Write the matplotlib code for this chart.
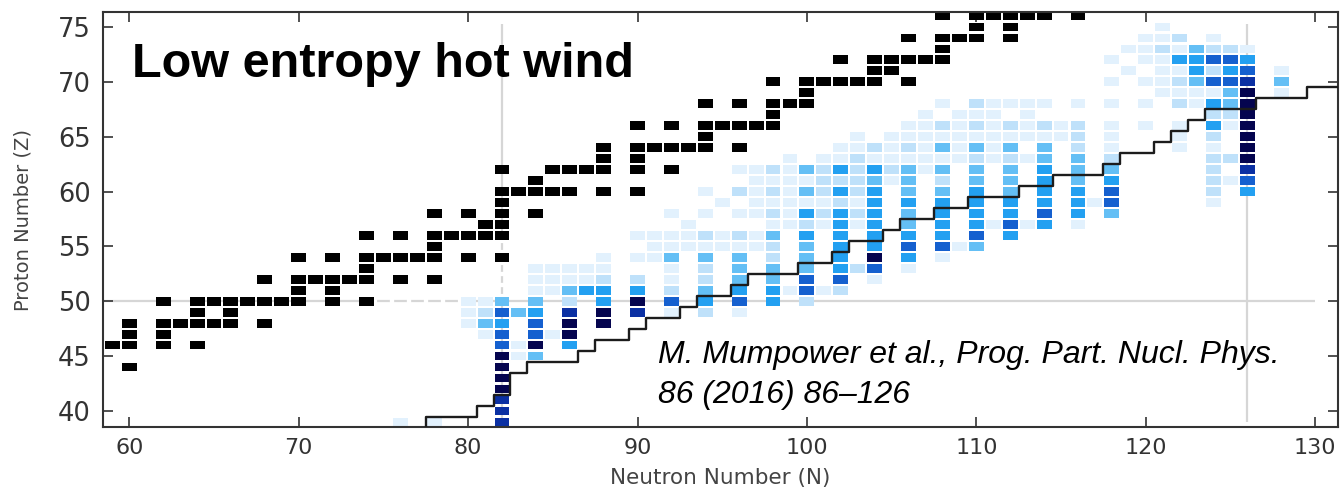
import numpy as np
import matplotlib
matplotlib.use('Agg')
import matplotlib.pyplot as plt

# stable nuclei: one proton number per row, with the neutron numbers on that row
stable_z = [44, 46, 47, 48, 49, 50, 51, 52, 53, 54, 55, 56, 57, 58, 59, 60,
            61, 62, 63, 64, 65, 66, 67, 68, 69, 70, 71, 72, 73, 74, 75, 76]
stable_n = [
    [60],
    [59, 60, 62, 64],
    [60, 62],
    [60, 62, 63, 64, 65, 66, 68],
    [64, 66],
    [62, 64, 65, 66, 67, 68, 69, 70, 72, 74],
    [70, 72],
    [68, 70, 71, 72, 73, 74, 76, 78],
    [74],
    [70, 72, 74, 75, 76, 77, 78, 80, 82],
    [78],
    [74, 76, 78, 79, 80, 81, 82],
    [81, 82],
    [78, 80, 82, 84],
    [82],
    [82, 83, 84, 85, 86, 88, 90],
    [84],
    [82, 85, 86, 87, 88, 90, 92],
    [88, 90],
    [88, 90, 91, 92, 93, 94, 96],
    [94],
    [90, 92, 94, 95, 96, 97, 98],
    [98],
    [94, 96, 98, 99, 100],
    [100],
    [98, 100, 101, 102, 103, 104, 106],
    [104, 105],
    [102, 104, 105, 106, 107, 108],
    [108],
    [106, 108, 109, 110, 112],
    [110, 112],
    [108, 110, 111, 112, 113, 114, 116],
]

# abundance pattern, one column per neutron number:
# lowest Z in the column, then abundance class per Z going up ('.' = nothing)
path_n = [76, 78, 80, 81, 82, 83, 84, 85, 86, 87, 88, 90, 91, 92, 93, 94, 95,
          96, 97, 98, 99, 100, 101, 102, 103, 104, 105, 106, 107, 108, 109,
          110, 111, 112, 113, 114, 115, 116, 117, 118, 119, 120, 121, 122,
          123, 124, 125, 126, 128]
path_zmin = [39, 39, 48, 47, 39, 45, 45, 47, 46, 51, 48, 49, 54, 49, 55, 49, 55,
             49, 55, 50, 51, 50, 51, 51, 53, 52, 61, 53, 62, 54, 55,
             55, 57, 56, 57, 57, 65, 57, 59, 58, 71, 66, 69, 64,
             68, 59, 61, 60, 69]
path_levels = ["1", "1", "111", "1321", "666777755453", "11..3", "375543111",
               "1...111", "47762311", "411", "7744211", "6742.1.1", "111",
               "15211311.1", "111", "24322312.1.1", "11..1", "15433312.1.2.1",
               "11.11111", "4433223121212", "1.....1111111", "2553334241313",
               "1.....1212221", "25444444242411", "2...121222211",
               "1574444443412", "12111", "14543343331211", "111111",
               "1544443231312.1", "1.......11111", "35444433231212",
               "1.....111111", "45443332312.1", "1.....1.1111",
               "4544443312.1", "11", "1444333222.1", "1", "355432111.1.1.1",
               "1.1", "1.1.1.111", "1111211", "111.2121412", "113443",
               "1222212424152521", "1.2..12335452", "45677777776541", "131"]
level_colors = ['#e2f1fd', '#bfe1fa', '#64bff5', '#23a0f1', '#1560cf',
                '#0b30a3', '#05054f']

# nearly empty cells sitting on the magic-number lines
faint_n = [75, 76, 77, 78, 79, 82, 82, 82, 82]
faint_z = [50, 50, 50, 50, 50, 51, 52, 53, 55]

# step boundary (corner points, drawn with where='post')
edge_n = [77.5, 77.5, 80.5, 81.5, 82.5, 83.5, 86.5, 87.5, 89.5, 90.5, 92.5,
          93.5, 95.5, 96.5, 99.5, 101.5, 102.5, 104.5, 105.5, 107.5, 109.5,
          112.5, 114.5, 117.5, 118.5, 120.5, 121.5, 122.5, 123.5, 126.5,
          129.5, 132]
edge_z = [38, 39.5, 40.5, 41.5, 43.5, 44.5, 45.5, 46.5, 47.5, 48.5, 49.5,
          50.5, 51.5, 52.5, 53.5, 54.5, 55.5, 56.5, 57.5, 58.5, 59.5,
          60.5, 61.5, 62.5, 63.5, 64.5, 65.5, 66.5, 67.5, 68.5,
          69.5, 69.5]

magic_n = [82, 126]
magic_z = [50]

fig = plt.figure(figsize=(13.4, 4.88), dpi=100)
ax = fig.add_axes([0.0769, 0.125, 0.9216, 0.8504])

# magic number guide lines
ax.vlines(magic_n, 39, 75.3, color='#d6d6d6', lw=1.6, zorder=1)
ax.hlines(magic_z, 58, 130, color='#d6d6d6', lw=1.6, zorder=1)
ax.bar(faint_n, 1.0, width=1.0, bottom=np.array(faint_z) - 0.5, fill=False,
       edgecolor='white', linewidth=3.0, zorder=1.5)

# abundance cells
cn, cz, cc = [], [], []
for n, z0, lv in zip(path_n, path_zmin, path_levels):
    for k, ch in enumerate(lv):
        if ch != '.':
            cn.append(n)
            cz.append(z0 + k)
            cc.append(level_colors[int(ch) - 1])
ax.bar(cn, 0.78, width=0.88, bottom=np.array(cz) - 0.39, color=cc,
       linewidth=0, zorder=2)

# stable nuclei
sn, sz = [], []
for z, ns in zip(stable_z, stable_n):
    sn += ns
    sz += [z] * len(ns)
ax.bar(sn, 0.78, width=0.88, bottom=np.array(sz) - 0.39, color='black',
       linewidth=0, zorder=2)

ax.step(edge_n, edge_z, where='post', color='#1c1c1c', lw=1.7, zorder=3)

ax.set_xlim(58.45, 131.35)
ax.set_ylim(38.55, 76.35)
ax.set_xticks(np.arange(60, 131, 10))
ax.set_yticks(np.arange(40, 76, 5))
ax.tick_params(direction='in', length=7, width=1.2, top=True, right=True,
               colors='#333333')
ax.tick_params(axis='x', labelsize=16, pad=8)
ax.tick_params(axis='y', labelsize=18.5, pad=9)
for s in ax.spines.values():
    s.set_color('#333333')
    s.set_linewidth(1.5)

ax.set_xlabel('Neutron Number (N)', fontsize=15.5, color='#444444')
ax.set_ylabel('Proton Number (Z)', fontsize=14, color='#444444')
ax.xaxis.set_label_coords(0.5, -0.100)
ax.yaxis.set_label_coords(-0.057, 0.5)

fig.text(0.0985, 0.842, 'Low entropy hot wind', fontsize=35,
         fontweight='bold', family='Liberation Sans', va='baseline')
fig.text(0.491, 0.256, 'M. Mumpower et al., Prog. Part. Nucl. Phys.',
         fontsize=23, style='italic', family='Liberation Sans',
         va='baseline')
fig.text(0.491, 0.174, '86 (2016) 86\u2013126', fontsize=23,
         style='italic', family='Liberation Sans', va='baseline')

fig.savefig('out.png', dpi=100)
